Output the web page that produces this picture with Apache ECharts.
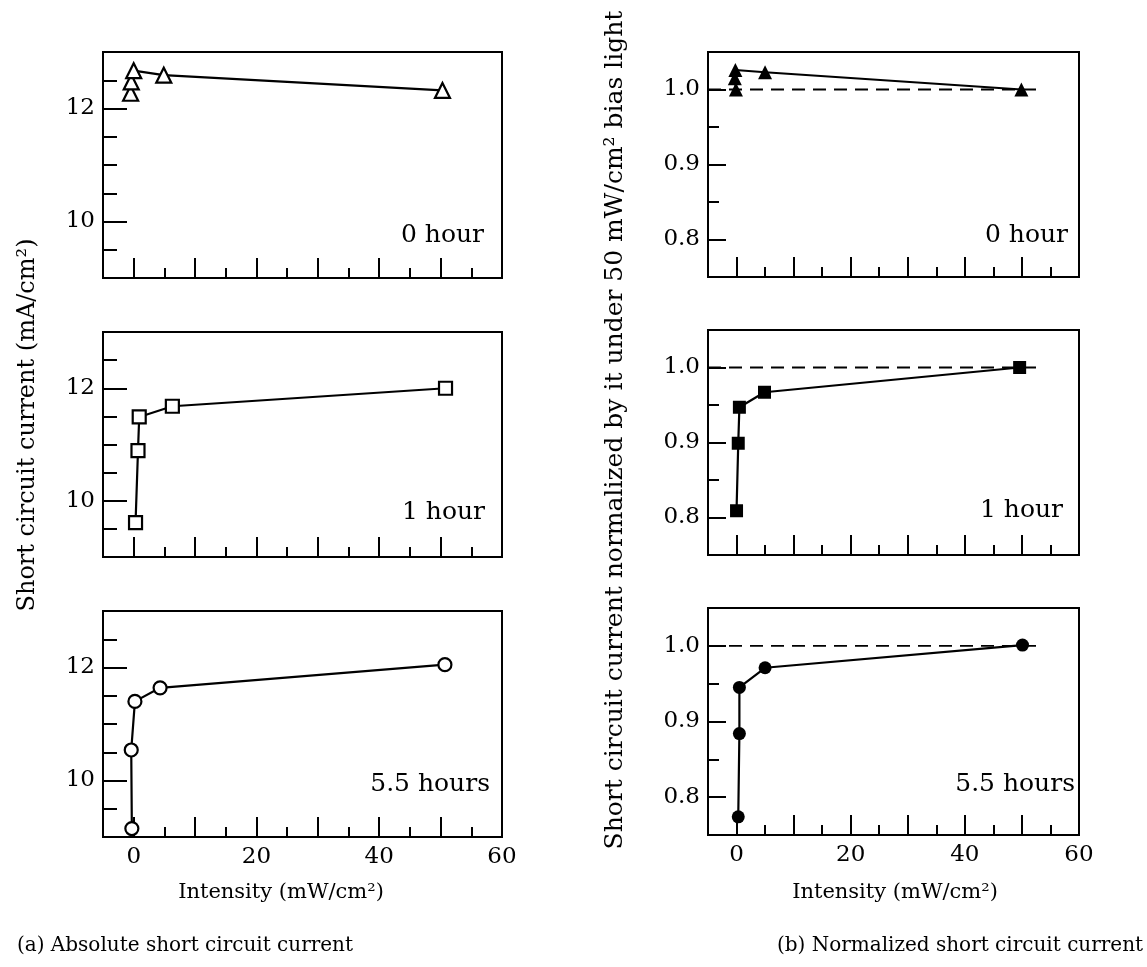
<!DOCTYPE html>
<html><head><meta charset="utf-8">
<script src="https://cdn.jsdelivr.net/npm/echarts@6/dist/echarts.min.js"></script>
<style>html,body{margin:0;padding:0;background:#fff}#c{width:1147px;height:967px}</style>
</head><body><div id="c"></div>
<script>
const FONT = 'DejaVu Serif';

// ---- data: (a) absolute short circuit current (mA/cm2) ----
const xA0 = [-0.5, -0.4, 0.0, 4.9, 50.3];
const yA0 = [12.27, 12.47, 12.67, 12.59, 12.32];
const xA1 = [0.3, 0.7, 0.9, 6.3, 50.8];
const yA1 = [9.61, 10.89, 11.49, 11.68, 12.00];
const xA55 = [-0.3, -0.4, 0.2, 4.3, 50.7];
const yA55 = [9.15, 10.54, 11.40, 11.64, 12.05];

// ---- data: (b) normalized short circuit current ----
const xB0 = [-0.1, -0.3, -0.2, 5.0, 49.9];
const yB0 = [1.000, 1.015, 1.026, 1.023, 1.000];
const xB1 = [0.0, 0.3, 0.5, 4.9, 49.6];
const yB1 = [0.809, 0.899, 0.947, 0.967, 1.000];
const xB55 = [0.3, 0.5, 0.5, 5.0, 50.1];
const yB55 = [0.774, 0.884, 0.945, 0.971, 1.001];

// reference line (normalized = 1)
const xRef = [-5, 52.5];
const yRef = [1.0, 1.0];

// ---- ticks & labels ----
const xTickMajor = [0, 10, 20, 30, 40, 50];
const xTickMinor = [5, 15, 25, 35, 45, 55];
const xTickLabels = [0, 20, 40, 60];
const yTickMajorA = [10, 12];
const yTickMinorA = [9.5, 10.5, 11, 11.5, 12.5];
const yTickLabelsA = [10, 12];
const yTickMajorB = [0.8, 0.9, 1.0];
const yTickMinorB = [0.85, 0.95];
const yTickLabelsB = [0.8, 0.9, 1.0];

const panelLabels = ['0 hour', '1 hour', '5.5 hours'];
const xTitle = 'Intensity (mW/cm\u00B2)';
const yTitleA = 'Short circuit current (mA/cm\u00B2)';
const yTitleB = 'Short circuit current normalized by it under 50 mW/cm\u00B2 bias light';
const captionA = '(a) Absolute short circuit current';
const captionB = '(b) Normalized short circuit current';

// ---- layout ----
const panels = [
  {left:103, top:52,  width:399, height:226, side:'A', row:0},
  {left:103, top:332, width:399, height:225, side:'A', row:1},
  {left:103, top:611, width:399, height:226, side:'A', row:2},
  {left:708, top:52,  width:371, height:225, side:'B', row:0},
  {left:708, top:330, width:371, height:225, side:'B', row:1},
  {left:708, top:608, width:371, height:227, side:'B', row:2},
];
const seriesData = {
  A: [[xA0, yA0, 'triangle', 15], [xA1, yA1, 'rect', 13], [xA55, yA55, 'circle', 13]],
  B: [[xB0, yB0, 'triangle', 14], [xB1, yB1, 'rect', 13], [xB55, yB55, 'circle', 13]],
};

const grid = [], xAxis = [], yAxis = [], series = [];
const txt = {fontFamily: FONT, fontSize: 23, color: '#000'};
const tickStyle = {color: '#000', width: 2};

panels.forEach((p, g) => {
  grid.push({left: p.left, top: p.top, width: p.width, height: p.height, show: true,
    borderColor: '#000', borderWidth: 2, backgroundColor: 'transparent'});
  const isA = p.side === 'A';
  const bottomRow = p.row === 2;
  xAxis.push({type: 'value', gridIndex: g, min: -5, max: 60, position: 'bottom', offset: 0,
    axisLine: {show: false, onZero: false}, splitLine: {show: false}, axisLabel: {show: false},
    axisTick: {show: true, inside: true, length: 10, customValues: xTickMinor, lineStyle: tickStyle}});
  xAxis.push({type: 'value', gridIndex: g, min: -5, max: 60, position: 'bottom', offset: 0,
    axisLine: {show: false, onZero: false}, splitLine: {show: false},
    axisLabel: {show: bottomRow, customValues: xTickLabels, margin: 9, ...txt},
    axisTick: {show: true, inside: true, length: 20, customValues: xTickMajor, lineStyle: tickStyle}});
  const yMin = isA ? 9 : 0.75, yMax = isA ? 13 : 1.05;
  yAxis.push({type: 'value', gridIndex: g, min: yMin, max: yMax, position: 'left', offset: 0,
    axisLine: {show: false, onZero: false}, splitLine: {show: false}, axisLabel: {show: false},
    axisTick: {show: true, inside: true, length: isA ? 14 : 11, customValues: isA ? yTickMinorA : yTickMinorB, lineStyle: tickStyle}});
  yAxis.push({type: 'value', gridIndex: g, min: yMin, max: yMax, position: 'left', offset: 0,
    axisLine: {show: false, onZero: false}, splitLine: {show: false},
    axisLabel: {show: true, customValues: isA ? yTickLabelsA : yTickLabelsB, margin: 8,
      formatter: v => isA ? String(Math.round(v)) : Number(v).toFixed(1), ...txt},
    axisTick: {show: true, inside: true, length: isA ? 24 : 18, customValues: isA ? yTickMajorA : yTickMajorB, lineStyle: tickStyle}});

  if (!isA) {
    series.push({type: 'line', xAxisIndex: 2*g+1, yAxisIndex: 2*g+1, symbol: 'none', silent: true, z: 1,
      lineStyle: {color: '#000', width: 1.8, type: [13, 8]},
      data: xRef.map((x, i) => [x, yRef[i]])});
  }
  const [xs, ys, sym, size] = seriesData[p.side][p.row];
  series.push({type: 'line', xAxisIndex: 2*g+1, yAxisIndex: 2*g+1, z: 3,
    symbol: sym, symbolSize: size, showSymbol: true, showAllSymbol: true,
    lineStyle: {color: '#000', width: 2.2},
    itemStyle: isA ? {color: '#fff', borderColor: '#000', borderWidth: 2.2} : {color: '#000', borderColor: '#000', borderWidth: 0},
    data: xs.map((x, i) => [x, ys[i]])});
});

const panelLabelPos = [
  {x: 484, y: 235}, {x: 485, y: 512}, {x: 490, y: 784},
  {x: 1068, y: 235}, {x: 1063, y: 510}, {x: 1075, y: 784},
];
const graphic = [];
panels.forEach((p, g) => {
  graphic.push({type: 'text', x: panelLabelPos[g].x, y: panelLabelPos[g].y, z: 10,
    style: {text: panelLabels[p.row], font: '25px "DejaVu Serif"', fill: '#000', textAlign: 'right', textVerticalAlign: 'middle'}});
});
const mk = (x, y, text, size, rot) => ({type: 'text', x, y, rotation: rot || 0,
  style: {text, font: size + 'px "DejaVu Serif"', fill: '#000', textAlign: 'center', textVerticalAlign: 'middle'}});
graphic.push(mk(281, 893, xTitle, 21));
graphic.push(mk(895, 893, xTitle, 21));
graphic.push(mk(185, 946, captionA, 20));
graphic.push(mk(960, 946, captionB, 20));
graphic.push(mk(28, 425, yTitleA, 24, Math.PI/2));
graphic.push(mk(615, 430, yTitleB, 25, Math.PI/2));

const chart = echarts.init(document.getElementById('c'), null, {renderer: 'canvas'});
chart.setOption({animation: false, backgroundColor: '#fff', grid, xAxis, yAxis, series, graphic});
</script>
</body></html>
